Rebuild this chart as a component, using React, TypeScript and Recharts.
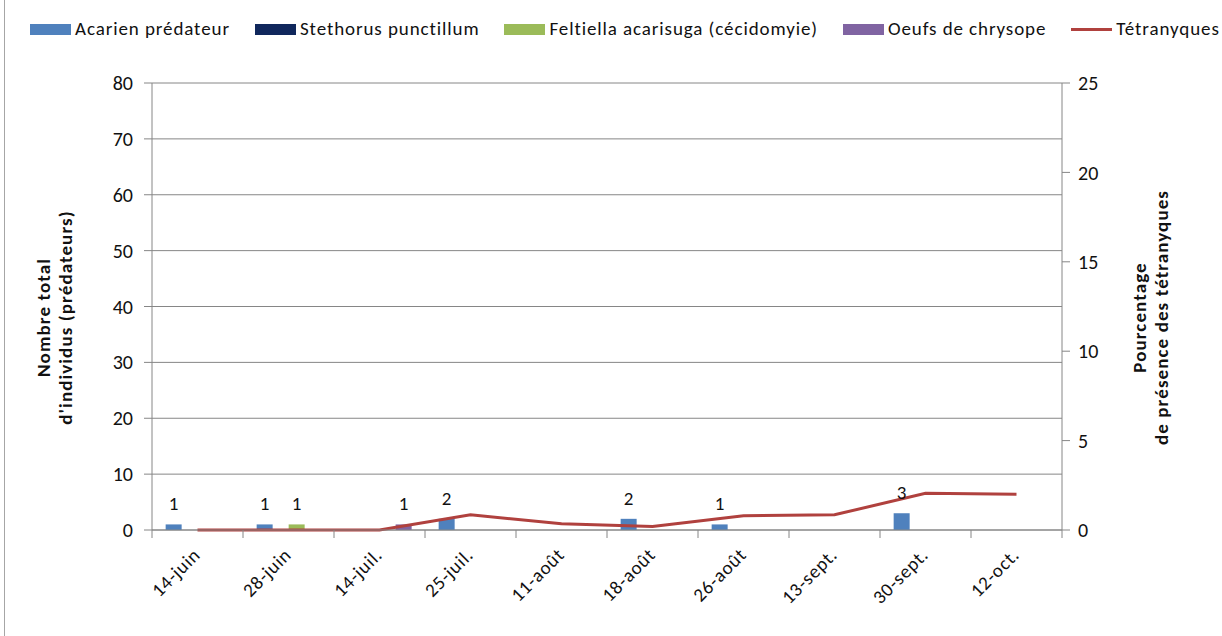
import React from 'react';
import { ComposedChart, Bar, Line, XAxis, YAxis, CartesianGrid, LabelList } from 'recharts';

const categories = ['14-juin', '28-juin', '14-juil.', '25-juil.', '11-août', '18-août', '26-août', '13-sept.', '30-sept.', '12-oct.'];
const acarien = [1, 1, 0, 2, 0, 2, 1, 0, 3, 0];
const stethorus = [0, 0, 0, 0, 0, 0, 0, 0, 0, 0];
const feltiella = [0, 1, 0, 0, 0, 0, 0, 0, 0, 0];
const oeufs = [0, 0, 1, 0, 0, 0, 0, 0, 0, 0];
const tetranyques = [0, 0, 0, 0.85, 0.35, 0.2, 0.8, 0.85, 2.05, 2.0];
const leftTicks = [0, 10, 20, 30, 40, 50, 60, 70, 80];
const rightTicks = [0, 5, 10, 15, 20, 25];

const series = [
  { key: 'acarien', name: 'Acarien prédateur', color: '#4F81BD', kind: 'bar' },
  { key: 'stethorus', name: 'Stethorus punctillum', color: '#10275C', kind: 'bar' },
  { key: 'feltiella', name: 'Feltiella acarisuga (cécidomyie)', color: '#9BBB59', kind: 'bar' },
  { key: 'oeufs', name: 'Oeufs de chrysope', color: '#8064A2', kind: 'bar' },
  { key: 'tetranyques', name: 'Tétranyques', color: '#B0413E', kind: 'line' },
];

const data = categories.map((c, i) => ({
  name: c,
  acarien: acarien[i],
  stethorus: stethorus[i],
  feltiella: feltiella[i],
  oeufs: oeufs[i],
  tetranyques: tetranyques[i],
}));

const FONT = 'Carlito, Lato, sans-serif';
const AXIS = '#868686';

// hide zero labels like Excel does
const renderValue = (props: any) => {
  const { x, y, width, value } = props;
  if (!value) return null;
  return (
    <text x={x + width / 2} y={y - 14} textAnchor="middle" fontFamily={FONT} fontSize={19} fill="#111">
      {value}
    </text>
  );
};

const DateTick = (props: any) => {
  const { x, y, payload, index } = props;
  const half = payload.offset ?? 45.5;
  const tx = x + 4;
  const ty = y + 18;
  return (
    <g>
      <line x1={x - half} y1={y - 8} x2={x - half} y2={y} stroke={AXIS} />
      {index === categories.length - 1 && <line x1={x + half} y1={y - 8} x2={x + half} y2={y} stroke={AXIS} />}
      <text
        x={tx}
        y={ty}
        textAnchor="end"
        transform={`rotate(-45, ${tx}, ${ty})`}
        fontFamily={FONT}
        fontSize={19}
        letterSpacing={0.8}
        fill="#111"
      >
        {payload.value}
      </text>
    </g>
  );
};

const AxisTitle = ({ viewBox, lines, side }: any) => {
  const cy = viewBox.y + viewBox.height / 2 + 11;
  const x0 = side === 'left' ? viewBox.x - 49 : viewBox.x + 77;
  return (
    <g>
      {lines.map((t: string, i: number) => (
        <text
          key={i}
          x={x0 + i * 22}
          y={cy}
          textAnchor="middle"
          dominantBaseline="central"
          transform={`rotate(-90, ${x0 + i * 22}, ${cy})`}
          fontFamily={FONT}
          fontWeight="bold"
          fontSize={19}
          letterSpacing={1.1}
          fill="#111"
        >
          {t}
        </text>
      ))}
    </g>
  );
};

const Legend = () => (
  <div
    style={{
      position: 'absolute',
      top: 18,
      left: 30,
      display: 'flex',
      alignItems: 'center',
      gap: 25,
      fontFamily: FONT,
      fontSize: 19,
      letterSpacing: 0.9,
      color: '#111',
      whiteSpace: 'nowrap',
      lineHeight: '22px',
    }}
  >
    {series.map((s) => (
      <div key={s.key} style={{ display: 'flex', alignItems: 'center', gap: 4 }}>
        <span
          style={{
            display: 'inline-block',
            width: 41,
            height: s.kind === 'line' ? 3 : 11,
            background: s.color,
          }}
        />
        <span>{s.name}</span>
      </div>
    ))}
  </div>
);

export default function App() {
  return (
    <div style={{ position: 'absolute', left: 0, top: 0, width: 1222, height: 636, background: '#fff', overflow: 'hidden' }}>
      <div style={{ position: 'absolute', left: 4, top: 0, width: 1, height: 636, background: '#a6a6a6' }} />
      <Legend />
      <ComposedChart
        width={1222}
        height={636}
        data={data}
        margin={{ top: 83, right: 100, bottom: 46, left: 92 }}
        barCategoryGap="15%"
        barGap={0}
      >
        <CartesianGrid yAxisId="left" vertical={false} stroke={AXIS} strokeWidth={1} />
        <XAxis
          dataKey="name"
          height={60}
          interval={0}
          tickLine={false}
          axisLine={{ stroke: AXIS }}
          tick={<DateTick />}
        />
        <YAxis
          yAxisId="left"
          width={60}
          domain={[0, 80]}
          ticks={leftTicks}
          tickSize={8}
          tickMargin={11}
          axisLine={{ stroke: AXIS }}
          tickLine={{ stroke: AXIS }}
          tick={{ fill: '#111', fontFamily: FONT, fontSize: 20 }}
          label={<AxisTitle side="left" lines={['Nombre total', "d'individus (prédateurs)"]} />}
        />
        <YAxis
          yAxisId="right"
          orientation="right"
          width={60}
          domain={[0, 25]}
          ticks={rightTicks}
          tickSize={8}
          tickMargin={8}
          axisLine={{ stroke: AXIS }}
          tickLine={{ stroke: AXIS }}
          tick={{ fill: '#111', fontFamily: FONT, fontSize: 20, textAnchor: 'start' }}
          label={<AxisTitle side="right" lines={['Pourcentage', 'de présence des tétranyques']} />}
        />
        {series
          .filter((s) => s.kind === 'bar')
          .map((s) => (
            <Bar key={s.key} yAxisId="left" dataKey={s.key} name={s.name} fill={s.color} isAnimationActive={false}>
              <LabelList dataKey={s.key} content={renderValue} />
            </Bar>
          ))}
        <Line
          yAxisId="right"
          dataKey="tetranyques"
          name="Tétranyques"
          stroke="#B0413E"
          strokeWidth={3}
          dot={false}
          type="linear"
          isAnimationActive={false}
        />
      </ComposedChart>
    </div>
  );
}
